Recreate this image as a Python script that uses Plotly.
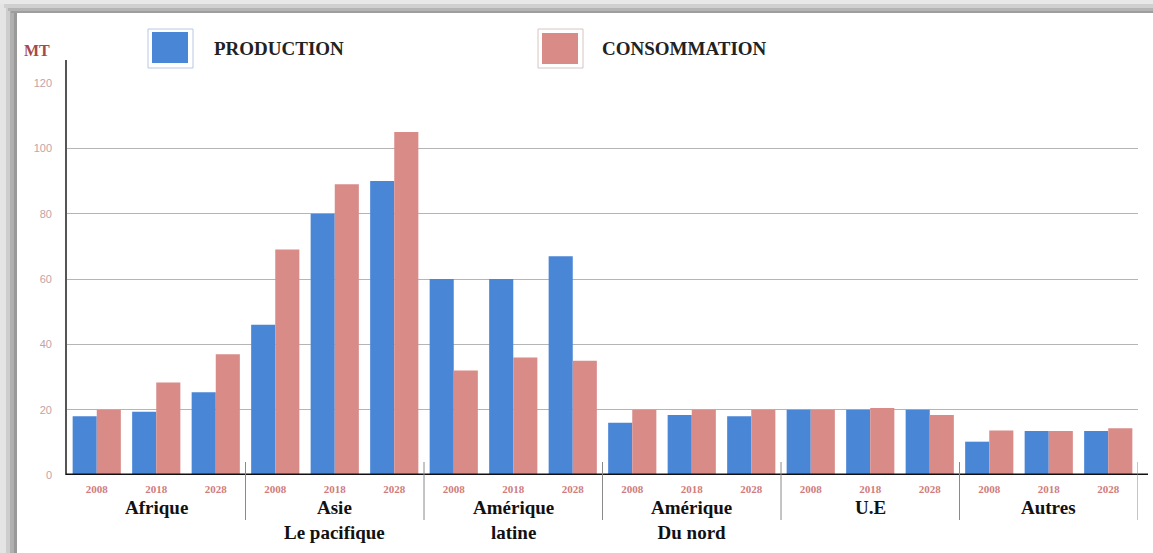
import plotly.graph_objects as go

# Production / consumption by region (MT), three horizons each
years = ["2008", "2018", "2028"]
regions = ["Afrique", "Asie<br>Le pacifique", "Amérique<br>latine",
           "Amérique<br>Du nord", "U.E", "Autres"]
production = [18, 19.4, 25.3, 46, 80, 90, 60, 60, 67,
              16, 18.4, 18, 20, 20, 20, 10.2, 13.5, 13.5]
consommation = [20, 28.3, 37, 69, 89, 105, 32, 36, 35,
                20, 20, 20, 20, 20.5, 18.4, 13.6, 13.5, 14.3]
y_ticks = [0, 20, 40, 60, 80, 100, 120]

BLUE = "#4A86D6"
PINK = "#D98B88"
SERIF = "Liberation Serif, Times New Roman, serif"

W, H = 1153, 553
L, R, T, B = 67, 15, 83, 78
PW, PH = W - L - R, H - T - B


def px_x(px):
    return (px - L) / PW


def px_y(py):
    return (H - B - py) / PH


slots = list(range(len(production)))
labels = [years[i % 3] for i in slots]

fig = go.Figure()
fig.add_trace(go.Bar(x=slots, y=production, name="PRODUCTION",
                     marker=dict(color=BLUE, line=dict(width=0))))
fig.add_trace(go.Bar(x=slots, y=consommation, name="CONSOMMATION",
                     marker=dict(color=PINK, line=dict(width=0))))

shapes = []
# card shadow along left and top edges
for (a, b, c) in [(0, 6, "#e4e4e4"), (6, 10, "#cdcdcd"), (10, 14, "#b0b0b0"), (14, 17, "#999999")]:
    shapes.append(dict(type="rect", xref="paper", yref="paper",
                       x0=px_x(a), x1=px_x(b), y0=px_y(H), y1=px_y(0),
                       line=dict(width=0), fillcolor=c, layer="below"))
for (a, b, c) in [(0, 4, "#e8e8e8"), (4, 8, "#d0d0d0"), (8, 11, "#b4b4b4"), (11, 13, "#9e9e9e")]:
    shapes.append(dict(type="rect", xref="paper", yref="paper",
                       x0=px_x(a), x1=px_x(W), y0=px_y(b), y1=px_y(a),
                       line=dict(width=0), fillcolor=c, layer="below"))

# vertical axis line, rising a little above the top gridline
shapes.append(dict(type="line", xref="paper", yref="paper",
                   x0=px_x(66), x1=px_x(66), y0=0, y1=px_y(60),
                   line=dict(color="#555555", width=2)))
# baseline
shapes.append(dict(type="line", xref="paper", yref="y",
                   x0=px_x(66), x1=px_x(1148), y0=0, y1=0,
                   line=dict(color="#111111", width=3)))
# separators between region groups
for k in range(1, len(regions) + 1):
    shapes.append(dict(type="line", xref="x", yref="paper",
                       x0=3 * k - 0.5, x1=3 * k - 0.5,
                       y0=px_y(462), y1=px_y(520),
                       line=dict(color="#8a8a8a", width=1)))

# legend swatches
for (x0, color, fill_top, fill_bot, border) in [(148, BLUE, 32, 63, "#b9c8e2"),
                                                (538, PINK, 33, 64, "#d6c4c4")]:
    shapes.append(dict(type="rect", xref="paper", yref="paper",
                       x0=px_x(x0), x1=px_x(x0 + 45), y0=px_y(68), y1=px_y(29),
                       line=dict(color=border, width=1), fillcolor="white"))
    shapes.append(dict(type="rect", xref="paper", yref="paper",
                       x0=px_x(x0 + 4), x1=px_x(x0 + 40), y0=px_y(fill_bot), y1=px_y(fill_top),
                       line=dict(width=0), fillcolor=color))

annotations = []
for (x0, tr) in [(212, fig.data[0]), (600, fig.data[1])]:
    annotations.append(dict(text=tr.name, xref="paper", yref="paper",
                            x=px_x(x0), y=px_y(49), xanchor="left", yanchor="middle",
                            showarrow=False,
                            font=dict(family=SERIF, size=19, color="#222222", weight="bold")))

annotations.append(dict(text="MT", xref="paper", yref="paper",
                        x=px_x(22), y=px_y(51), xanchor="left", yanchor="middle",
                        showarrow=False,
                        font=dict(family=SERIF, size=16, color="#a84848", weight="bold")))

for i, reg in enumerate(regions):
    annotations.append(dict(text=reg, xref="x", yref="paper",
                            x=3 * i + 1, y=px_y(495), xanchor="center", yanchor="top",
                            showarrow=False,
                            font=dict(family=SERIF, size=19, color="#111111", weight="bold")))

fig.update_layout(
    width=W, height=H,
    margin=dict(l=L, r=R, t=T, b=B),
    paper_bgcolor="white", plot_bgcolor="white",
    barmode="group", bargap=0.19, bargroupgap=0,
    showlegend=False,
    shapes=shapes, annotations=annotations,
    xaxis=dict(range=[-0.5, len(slots) - 0.5], tickmode="array",
               tickvals=slots, ticktext=labels, showgrid=False, zeroline=False,
               showline=False, ticks="", ticklabelstandoff=6,
               tickfont=dict(family=SERIF, size=11, color="#d07c7c", weight="bold")),
    yaxis=dict(range=[0, 120], tickmode="array", tickvals=y_ticks,
               showgrid=True, gridcolor="#b5b5b5", gridwidth=1,
               zeroline=False, showline=False, ticks="", ticklabelstandoff=14,
               tickfont=dict(family="Liberation Sans, Arial, sans-serif", size=11,
                             color="#c4a2a5")),
)

fig.write_html("out.html")
